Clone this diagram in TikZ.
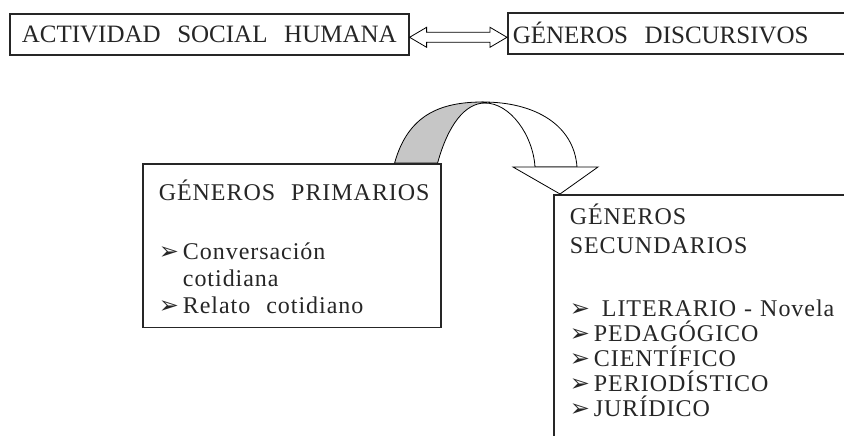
\documentclass[tikz,border=0pt]{standalone}
\usepackage{fontspec}
\setmainfont{Liberation Serif}
\newfontfamily\symfont{DejaVu Sans}
\usepackage{tikz}
\usetikzlibrary{positioning,calc}

\tikzset{
  box/.style={draw=black!85, line width=1.6pt, fill=white, anchor=north west, align=left,
    inner ysep=16pt, text=black!85, font=\fontsize{24}{27}\selectfont\addfontfeature{LetterSpace=4}},
  titlebox/.style={box, inner ysep=0pt, minimum height=41pt, font=\fontsize{25}{27}\selectfont},
  band/.style={draw=black, line width=0.8pt},
}
\newcommand{\itm}{{\symfont\fontsize{24}{24}\selectfont ➢}\,}

\begin{document}
\begin{tikzpicture}[x=1pt,y=-1pt]
    % Page
    \clip (0,0) rectangle (844,436);
    \fill[white] (0,0) rectangle (844,436);

    % Top boxes
    \node[titlebox, text width=375pt, inner xsep=12pt] (act) at (9,13) {ACTIVIDAD~~SOCIAL~~HUMANA};
    \node[titlebox, text width=330pt, inner xsep=5pt] (gen) at (507,12) {GÉNEROS~~DISCURSIVOS};

    % Double arrow
    \coordinate (l) at ($(act.east)+(0,3)$);
    \coordinate (r) at (l -| gen.west);
    \draw[band, fill=white] (l) -- ($(l)+(17,-10)$) -- ($(l)+(17,-5)$) -- ($(r)+(-17,-5)$) -- ($(r)+(-17,-10)$)
        -- (r) -- ($(r)+(-17,10)$) -- ($(r)+(-17,5)$) -- ($(l)+(17,5)$) -- ($(l)+(17,10)$) -- cycle;

    % Primary genres
    \node[box, text width=266pt, inner xsep=16pt, text depth=111pt] (prim) at (142,163)
        {\mbox{GÉNEROS~~PRIMARIOS}\\[32pt]\itm Conversación\\\phantom{\itm}cotidiana\\\itm Relato~~cotidiano};

    % Secondary genres
    \node[box, text width=400pt, inner xsep=16pt, inner ysep=9pt, text depth=260pt, font=\fontsize{24}{25}\selectfont\addfontfeature{LetterSpace=4}] (sec) at (553,194)
        {GÉNEROS\\[4pt]SECUNDARIOS\\[38pt]\itm\ LITERARIO - Novela\\\itm PEDAGÓGICO\\\itm CIENTÍFICO\\\itm PERIODÍSTICO\\\itm JURÍDICO};

    % Curved arrow
    \coordinate (f1) at ($(prim.north east)+(-47,0)$);
    \coordinate (f2) at ($(prim.north east)+(-4,0)$);
    \coordinate (tip) at ($(sec.north west)+(7,0)$);
    \draw[band, fill=gray!45] (f1) .. controls (408,115) and (440,102) .. (483,102) -- (485,103)
        .. controls (465,103) and (448,125) .. (f2) -- cycle;
    \draw[band, fill=white] (483,102) .. controls (535,102) and (574,125) .. (577,167) -- (535,167)
        .. controls (533,135) and (510,103) .. (485,103) -- cycle;
    \draw[band, fill=white] (513,167) -- (598,167) -- (tip) -- cycle;
\end{tikzpicture}
\end{document}
